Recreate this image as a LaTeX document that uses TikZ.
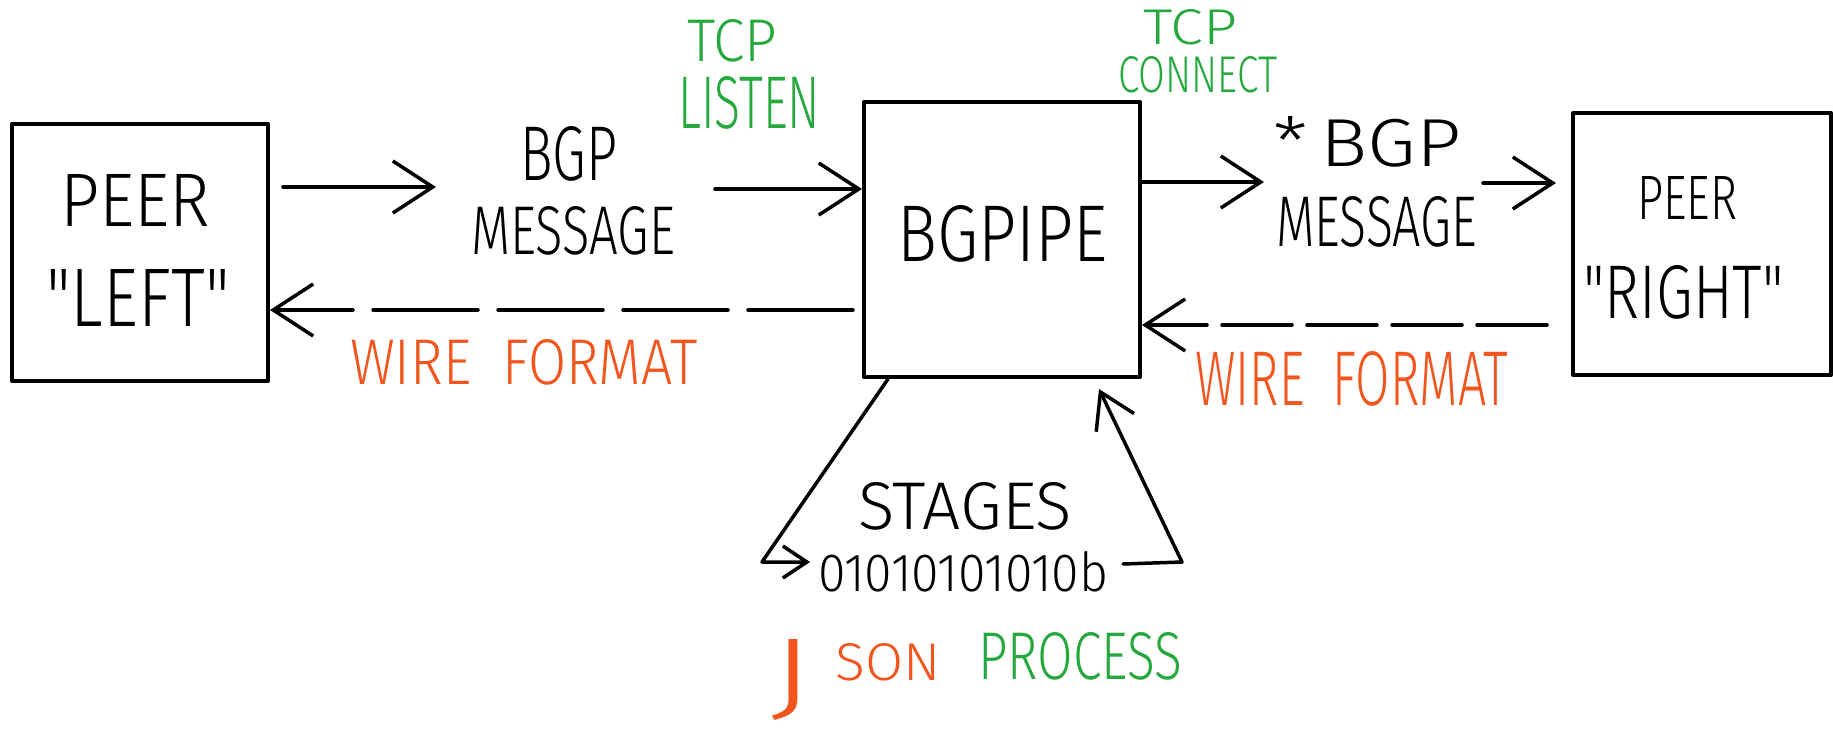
\documentclass[tikz,border=0pt]{standalone}
\usepackage{fontspec}
\IfFontExistsTF{Fira Sans Light}
  {\newfontfamily\hwfont{Fira Sans Light}}
  {\newfontfamily\hwfont{Fira Sans}}
\usepackage{graphicx}
\usetikzlibrary{arrows.meta}
\definecolor{hgreen}{RGB}{38,168,62}
\definecolor{horange}{RGB}{242,86,30}
\newcommand{\hwtext}[3]{\resizebox{#1pt}{#2pt}{#3}}
\begin{document}
\begin{tikzpicture}[x=1pt,y=-1pt,line cap=round,line join=round,
  box/.style={draw,line width=4pt,inner sep=0pt},
  txt/.style={inner sep=0pt,anchor=south west,font=\hwfont},
  arr/.style={line width=3.5pt,-{Straight Barb[length=40pt,width=52pt]}},
  smallarr/.style={line width=3.5pt,-{Straight Barb[length=24pt,width=32pt]}},
  loopend/.style={line width=3.5pt,-{Straight Barb[length=34pt,width=42pt]}},
  darrl/.style={arr,dash pattern=on 105pt off 20pt},
  darrr/.style={arr,dash pattern=on 70pt off 15pt}]
\useasboundingbox (0,0) rectangle (1833,730);

% boxes
\node[box,minimum width=256pt,minimum height=257pt] (left) at (140,252.5) {};
\node[box,minimum width=276pt,minimum height=275pt] (bgpipe) at (1002,239.5) {};
\node[box,minimum width=258pt,minimum height=262pt] (right) at (1702,244) {};

% texts in boxes
\node[txt] (tPeerL) at (60,227) {\hwtext{150}{52}{PEER}};
\node[txt] (tLeft) at (46,327) {\hwtext{184}{57}{"LEFT"}};
\node[txt] (tBgpipe) at (897,263) {\hwtext{210}{56}{BGPIPE}};
\node[txt] (tPeerR) at (1637,220) {\hwtext{100}{43}{PEER}};
\node[txt] (tRight) at (1583,320) {\hwtext{201}{53}{"RIGHT"}};

% message labels
\node[txt] (tBgpL) at (520,182) {\hwtext{97}{54}{BGP}};
\node[txt] (tMsgL) at (471,255) {\hwtext{204}{48}{MESSAGE}};
\node[txt] (tBgpR) at (1273,167) {\hwtext{188}{50}{*\,BGP}};
\node[txt] (tMsgR) at (1276,247) {\hwtext{201}{50}{MESSAGE}};

% green tcp labels
\node[txt,text=hgreen] (tTcpL) at (687,62) {\hwtext{90}{42}{TCP}};
\node[txt,text=hgreen] (tListen) at (678,130) {\hwtext{142}{52}{LISTEN}};
\node[txt,text=hgreen] (tTcpC) at (1143,45) {\hwtext{94}{35}{TCP}};
\node[txt,text=hgreen] (tConnect) at (1118,93) {\hwtext{159}{36}{CONNECT}};

% wire format labels
\node[txt,text=horange] (tWireL) at (350,385) {\hwtext{347}{45}{WIRE\ \ FORMAT}};
\node[txt,text=horange] (tWireR) at (1195,407) {\hwtext{313}{54}{WIRE\ \ FORMAT}};

% stages
\node[txt] (tStages) at (858,530) {\hwtext{214}{47}{STAGES}};
\node[txt] (tBits) at (818,592) {\hwtext{290}{40}{01010101010b}};
\node[inner sep=0pt,anchor=base west,text=horange,font=\hwfont] (tJson) at (770,680)
  {\raisebox{-40pt}{\resizebox*{43pt}{81pt}{\raisebox{\depth}{J}}}\hspace{22pt}\hwtext{105}{37}{SON}};
\node[txt,text=hgreen] (tProcess) at (978,680) {\hwtext{204}{47}{PROCESS}};

% coordinates
\coordinate (a1e) at (436,187);
\coordinate (a2s) at (715,189);
\coordinate (a3e) at (1264,182);
\coordinate (a4s) at (1483,183);
\coordinate (d1y) at (0,310);
\coordinate (d2y) at (0,325);
\coordinate (l1) at (762,562);
\coordinate (l2) at (810,562);
\coordinate (l3) at (1123,564);
\coordinate (l4) at (1182,562);

% connectors
\draw[arr,shorten <=13pt] (left.east |- a1e) -- (a1e);
\draw[arr] (a2s) -- (a2s -| bgpipe.west);
\draw[darrl,shorten <=9pt] (bgpipe.west |- d1y) -- (left.east |- d1y);
\draw[arr] (bgpipe.east |- a3e) -- (a3e);
\draw[arr,shorten >=15pt] (a4s) -- (a4s -| right.west);
\draw[darrr,shorten <=24pt] (right.west |- d2y) -- (bgpipe.east |- d2y);
\draw[smallarr] ([xshift=26pt]bgpipe.south west) -- (l1) -- (l2);
\draw[loopend] (l3) -- (l4) -- ([xshift=-43pt,yshift=-10pt]bgpipe.south east);
\end{tikzpicture}
\end{document}
